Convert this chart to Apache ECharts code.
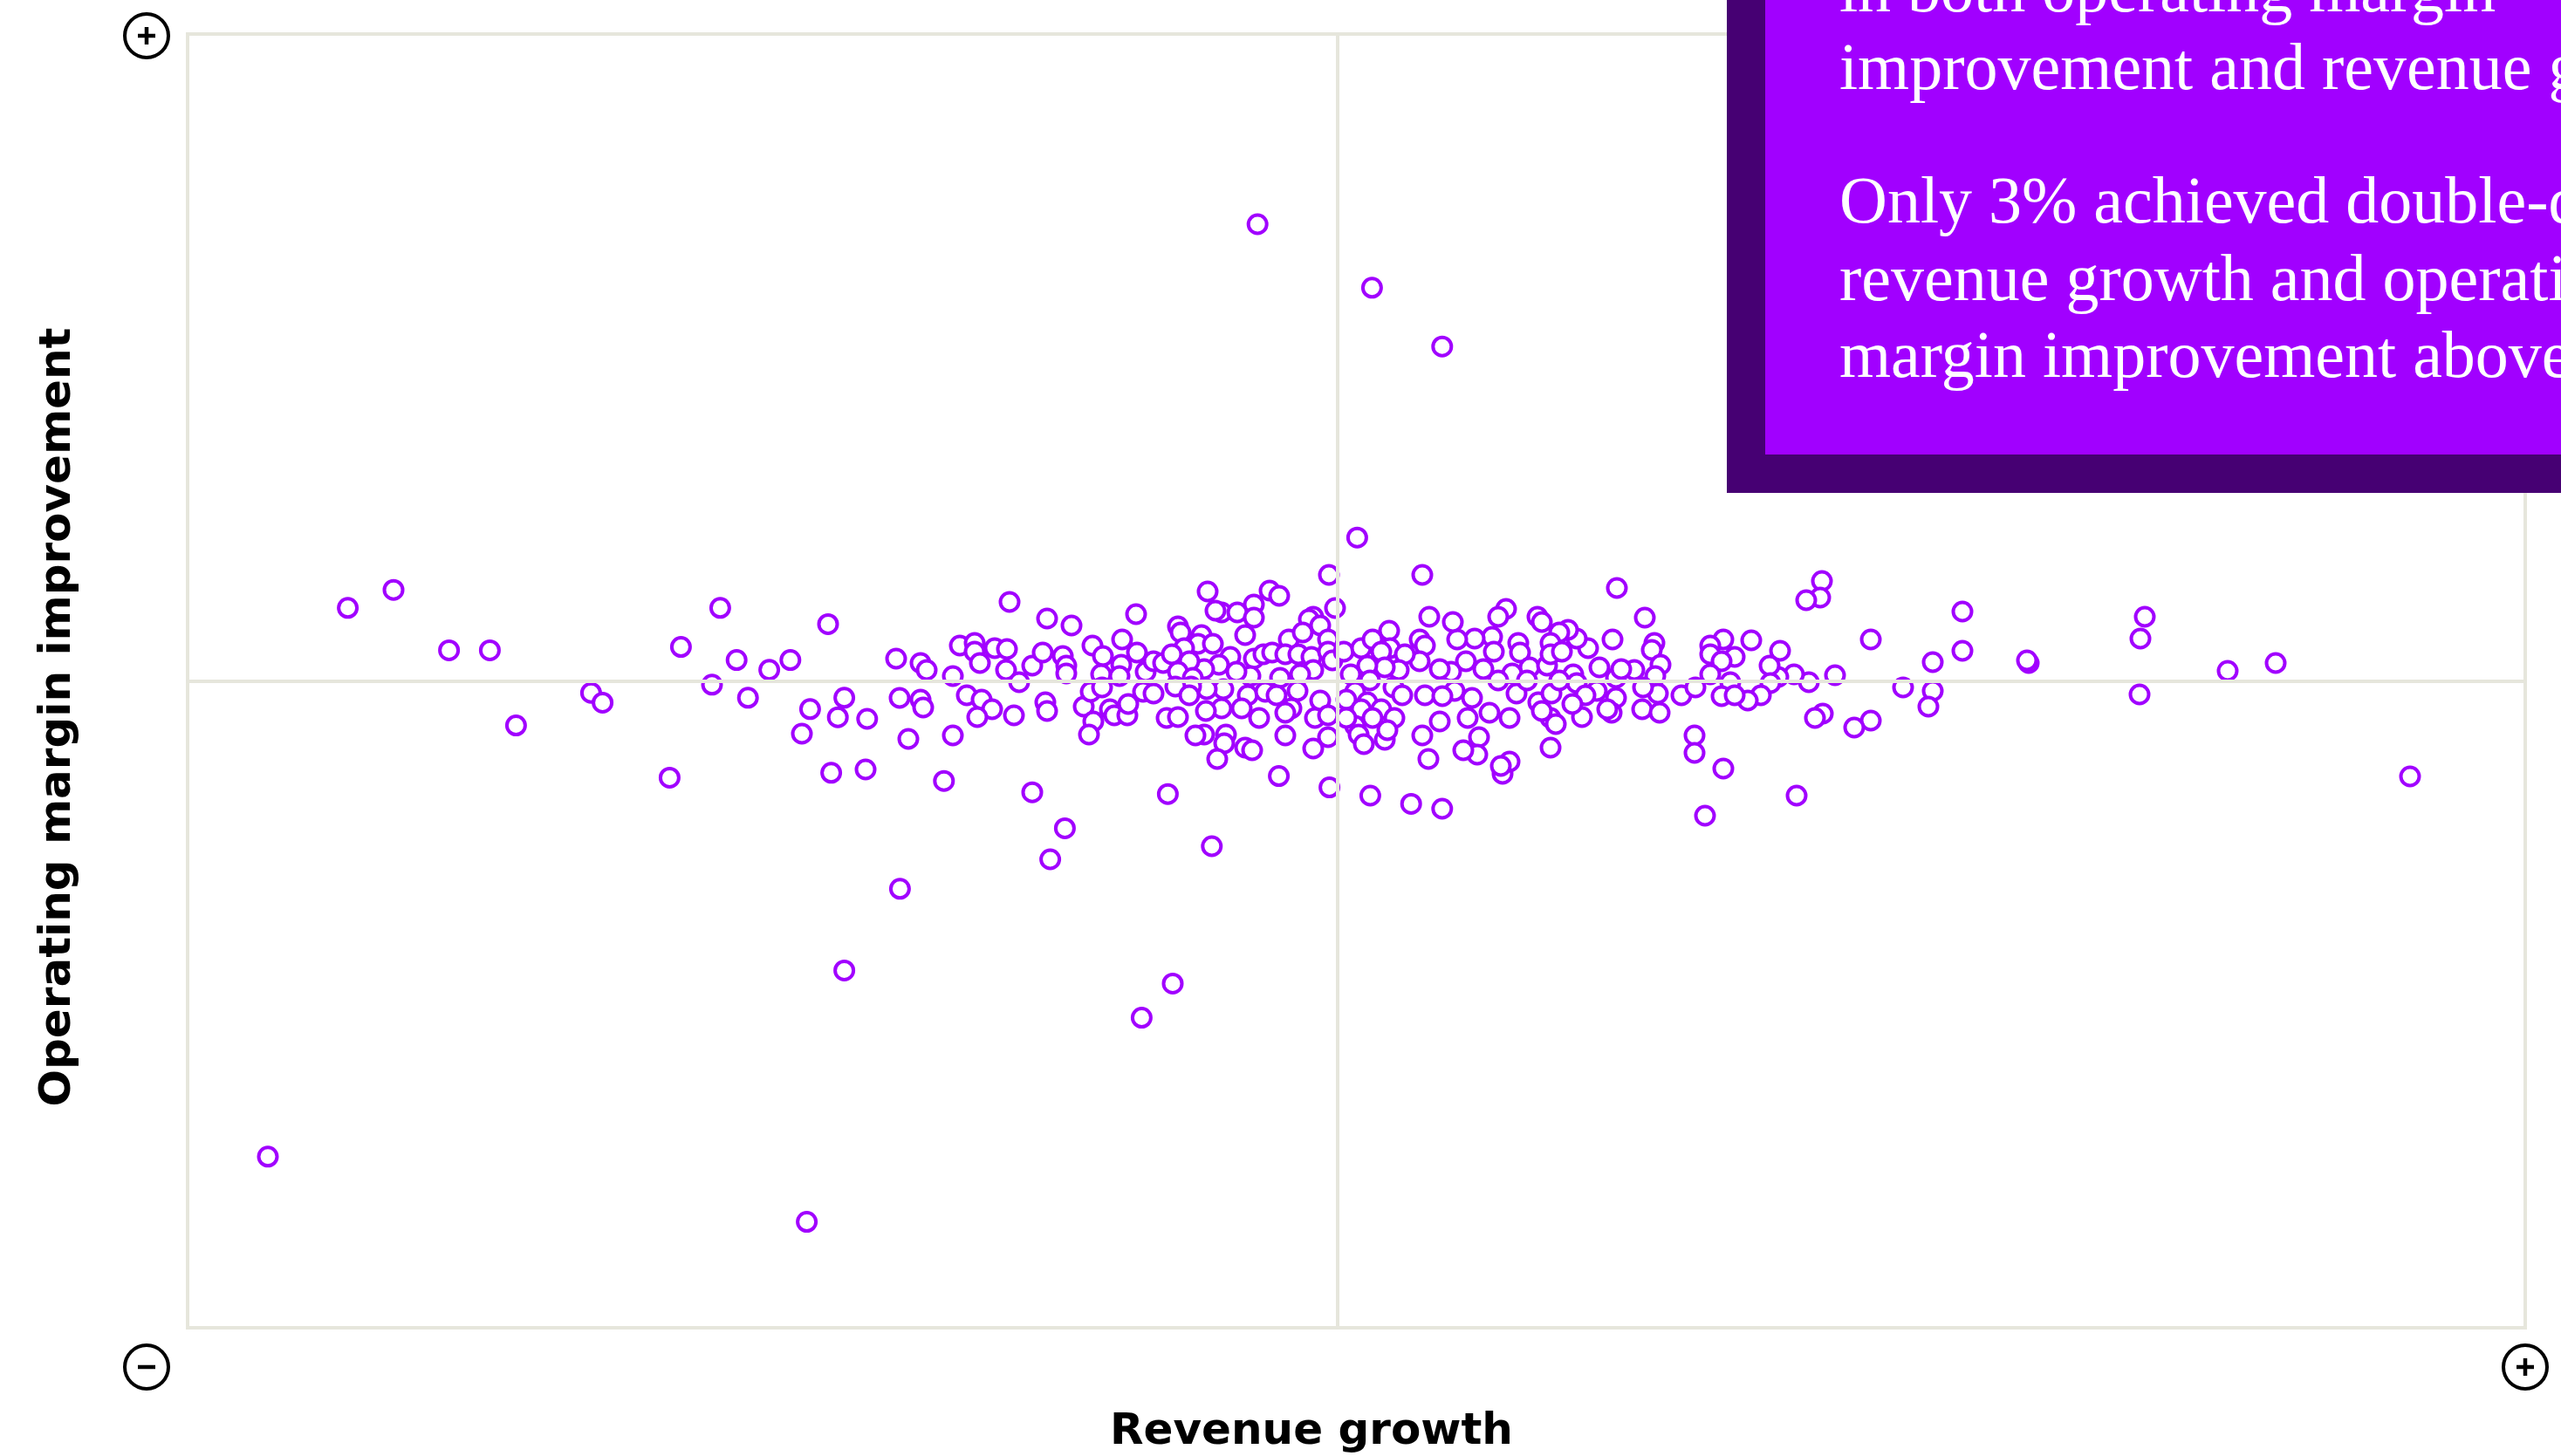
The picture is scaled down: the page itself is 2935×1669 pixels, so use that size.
<!DOCTYPE html>
<html>
<head>
<meta charset="utf-8">
<script src="https://cdn.jsdelivr.net/npm/echarts@6/dist/echarts.min.js"></script>
<style>
html,body{margin:0;padding:0;background:#fff;}
#chart{width:2935px;height:1669px;}
</style>
</head>
<body>
<div id="chart"></div>
<script>
// Axis titles and annotation text
const xTitle = 'Revenue growth';
const yTitle = 'Operating margin improvement';
const noteLines = [
  'in both operating margin',
  'improvement and revenue growth',
  'Only 3% achieved double-digit',
  'revenue growth and operating',
  'margin improvement above'
];
// Axis extents (arbitrary units, zero lines cross inside the frame)
const xRange = [-65.9, 68.05];
const yRange = [-37.05, 37.1];

// Companies: [revenue growth, operating margin improvement]
const outliers = [
  [-4.59,26.2],[1.97,22.56],[5.99,19.19],[1.12,8.24],[4.85,6.1],[-0.5,6.1],
  [-61.3,-27.24],[-30.42,-30.98],[-28.27,-16.57],[-9.45,-17.32],[-11.23,-19.28],
  [-25.08,-11.89],[-16.47,-10.2],[-7.21,-9.45],[-15.63,-8.42],[-17.5,-6.36],[-9.73,-6.46],
  [61.45,-5.45],[21.05,-7.7],[26.3,-6.55],[22.1,-5.0],[5.99,-7.3],[4.21,-7.02],
  [1.87,-6.55],[-0.47,-6.08],[-3.37,-5.43],[-38.28,-5.52],[-29.02,-5.24],[-27.05,-5.05],
  [-22.56,-5.71]
];
const leftTail = [
  [-56.72,4.21],[-54.1,5.24],[-50.92,1.78],[-48.58,1.78],[-47.08,-2.53],[-42.78,-0.66],
  [-42.12,-1.22],[-37.63,1.97],[-35.38,4.21],[-35.85,-0.19],[-34.44,1.22],[-33.79,-0.94],
  [-32.57,0.66],[-31.36,1.22],[-29.2,3.28],[-30.7,-3.0],[-30.23,-1.59],[-28.64,-2.06],
  [-28.27,-0.94],[-26.96,-2.15],[-25.3,1.3],[-25.1,-0.95],[-24.6,-3.3]
];
const coreLeft = [
  [-18.8,4.55],[-16.65,3.6],[-15.25,3.2],[-11.55,3.85],[-21.65,2.05],[-20.8,2.2],
  [-20.8,1.7],[-20.5,1.05],[-19.65,1.9],[-18.95,1.85],[-19.0,0.65],[-18.25,-0.05],
  [-17.5,0.9],[-16.9,1.65],[-15.75,1.45],[-15.55,0.9],[-15.55,0.45],[-14.05,2.05],
  [-13.45,1.45],[-12.35,2.4],[-12.4,0.95],[-11.5,1.65],[-13.55,0.4],[-12.5,0.3],
  [-11.0,0.55],[-10.55,1.15],[-10.0,1.05],[-23.9,1.05],[-23.55,0.65],[-22.05,0.3],
  [-23.9,-1.05],[-23.75,-1.5],[-21.25,-0.8],[-20.4,-1.05],[-19.8,-1.6],[-20.65,-2.05],
  [-18.55,-1.95],[-16.75,-1.2],[-16.65,-1.7],[-14.55,-1.45],[-14.15,-0.6],[-13.5,-0.35],
  [-14.0,-2.3],[-14.25,-3.05],[-13.05,-1.6],[-12.8,-1.95],[-12.05,-1.95],[-12.0,-1.3],
  [-11.15,-0.6],[-10.55,-0.7],[-9.8,-2.1],[-22.05,-3.1]
];
const coreCenter = [
  [-7.45,5.15],[-3.9,5.2],[-3.35,4.9],[-4.8,4.4],[-6.65,3.95],[-5.75,3.95],[-7.0,4.05],
  [-4.8,3.65],[-0.15,4.2],[-1.4,3.7],[-1.65,3.55],[-1.0,3.2],[-9.15,3.15],[-9.0,2.8],
  [-7.8,2.65],[-8.0,2.15],[-7.15,2.15],[-5.3,2.65],[-2.8,2.4],[-2.0,2.8],[-0.55,2.4],
  [-8.8,1.9],[-9.5,1.55],[-6.15,1.4],[-6.8,0.95],[-7.65,0.7],[-8.5,1.15],[-9.15,0.55],
  [-8.3,0.2],[-4.8,1.3],[-4.25,1.55],[-3.75,1.65],[-3.0,1.55],[-2.25,1.55],[-1.5,1.4],
  [-0.55,1.7],[-0.3,1.2],[-1.4,0.65],[-2.15,0.4],[-3.3,0.2],[-5.0,0.3],[-5.8,0.55],
  [-6.55,-0.45],[-7.5,-0.45],[-8.4,-0.3],[-9.3,-0.3],[-8.5,-0.8],[-5.15,-0.8],[-4.15,-0.6],
  [-3.5,-0.8],[-2.3,-0.55],[-1.0,-1.1],[-6.65,-1.55],[-7.55,-1.7],[-5.5,-1.55],[-4.5,-2.1],
  [-2.65,-1.55],[-3.0,-1.8],[-1.3,-2.1],[-0.55,-1.95],[-9.15,-2.05],[-7.65,-3.05],
  [-8.15,-3.1],[-6.4,-3.05],[-6.5,-3.55],[-5.3,-3.8],[-4.9,-3.95],[-6.9,-4.45],[-3.0,-3.1],
  [-1.4,-3.85],[-0.55,-3.2],[4.85,-3.1],[5.2,-4.45],
  [0.35,1.7],[1.35,1.9],[2.0,2.4],[2.95,2.9],[3.0,1.9],[2.5,1.7],[4.7,2.4],[5.0,2.05],
  [5.25,3.7],[4.7,1.15],[3.85,1.55],[3.5,0.65],[2.7,0.8],[1.7,0.9],[0.75,0.4],[1.85,0.05],
  [3.2,-0.35],[3.7,-0.8],[5.0,-0.8],[1.0,-0.6],[0.5,-1.05],[1.7,-1.2],[1.35,-1.6],[2.5,-1.6],
  [3.25,-2.1],[2.0,-2.1],[1.0,-2.55],[1.2,-3.05],[1.5,-3.6],[2.7,-3.35],[2.85,-2.8],[0.5,-2.1]
];
const coreRight = [
  [16.0,5.35],[17.6,3.65],[15.75,2.4],[18.15,2.2],[18.0,1.8],[18.5,0.95],[18.2,0.3],
  [17.0,0.65],[15.95,0.2],[16.25,0.7],[15.0,0.8],[14.35,1.9],[13.7,2.45],[13.2,2.95],
  [12.7,2.8],[12.2,2.2],[11.45,3.7],[11.7,3.4],[9.65,4.15],[9.2,3.7],[8.85,2.55],[8.95,1.7],
  [10.35,2.2],[10.45,1.65],[7.85,2.45],[6.85,2.4],[6.6,3.4],[7.35,1.15],[8.35,0.7],
  [6.5,0.55],[5.85,0.7],[10.0,0.45],[11.0,0.8],[12.0,0.9],[13.5,0.4],[13.7,-0.1],
  [14.85,-0.55],[14.2,-0.8],[15.95,-0.95],[15.7,-1.8],[15.45,-1.6],[17.45,-1.6],[18.45,-1.8],
  [18.35,-0.7],[17.5,-0.35],[19.7,-0.8],[14.0,-2.05],[13.45,-1.3],[12.2,-2.1],[12.5,-2.45],
  [12.2,-3.8],[11.5,-1.2],[11.7,-1.7],[12.25,-0.7],[10.25,-0.7],[9.85,-2.1],[8.7,-1.8],
  [7.7,-0.95],[6.7,-0.55],[6.0,-0.85],[7.45,-2.1],[5.85,-2.3],[8.1,-3.2],[8.0,-4.2],
  [7.2,-3.95],[9.45,-5.3],[9.85,-4.6],[9.35,-4.85],[9.2,0.05],[10.85,0.05],[12.7,0.05],
  [12.2,1.55],[12.85,1.7]
];
const rightTail = [
  [27.75,5.75],[27.65,4.8],[26.85,4.65],[35.8,4.0],[35.8,1.75],[30.55,2.4],[34.1,1.1],
  [32.4,-0.35],[34.1,-0.55],[33.85,-1.45],[28.5,0.35],[27.0,-0.05],[26.15,0.4],[25.25,0.25],
  [25.35,1.75],[24.75,0.9],[24.8,-0.1],[24.25,-0.8],[23.7,2.35],[23.5,-1.1],[22.75,1.4],
  [22.5,-0.05],[22.0,-0.85],[22.75,-0.8],[22.1,2.4],[21.35,2.05],[21.35,1.55],[22.0,1.15],
  [21.35,0.4],[20.5,-0.35],[27.8,-1.85],[27.35,-2.1],[30.55,-2.25],[29.6,-2.65],
  [20.45,-3.1],[20.45,-4.1],
  [39.6,1.05],[39.5,1.2],[46.25,3.7],[46.0,2.45],[45.95,-0.75],[51.0,0.6],[53.75,1.05]
];

const companies = [].concat(outliers, leftTail, coreLeft, coreCenter, coreRight, rightTail);

const PURPLE = '#a100ff';
const DARK_PURPLE = '#460073';
const LINE = '#e6e6dc';

const chart = echarts.init(document.getElementById('chart'), null, {renderer: 'canvas'});

function signBadge(cx, cy, plus) {
  const children = [
    {type: 'circle', shape: {cx: cx, cy: cy, r: 25}, style: {fill: '#fff', stroke: '#000', lineWidth: 4}},
    {type: 'line', shape: {x1: cx - 10, y1: cy, x2: cx + 10, y2: cy}, style: {stroke: '#000', lineWidth: 4.5}}
  ];
  if (plus) {
    children.push({type: 'line', shape: {x1: cx, y1: cy - 10, x2: cx, y2: cy + 10}, style: {stroke: '#000', lineWidth: 4.5}});
  }
  return {type: 'group', children: children};
}

const noteBaselines = [11, 100, 253, 342, 430];
const noteTexts = noteLines.map(function (t, i) {
  return {
    type: 'text', x: 2108, y: noteBaselines[i] - 18, z: 101,
    style: {text: t, font: '76px "Liberation Serif"', fill: '#ffffff', align: 'left', verticalAlign: 'middle'}
  };
});

chart.setOption({
  animation: false,
  grid: {left: 215, right: 41, top: 39, bottom: 147, show: true, borderColor: LINE, borderWidth: 4, backgroundColor: 'transparent'},
  xAxis: {
    type: 'value', min: xRange[0], max: xRange[1], z: 10,
    axisLine: {show: true, onZero: true, lineStyle: {color: LINE, width: 4}},
    axisTick: {show: false}, axisLabel: {show: false}, splitLine: {show: false}
  },
  yAxis: {
    type: 'value', min: yRange[0], max: yRange[1], z: 10,
    axisLine: {show: true, onZero: true, lineStyle: {color: LINE, width: 4}},
    axisTick: {show: false}, axisLabel: {show: false}, splitLine: {show: false}
  },
  series: [{
    type: 'scatter',
    data: companies,
    symbol: 'circle',
    symbolSize: 21,
    itemStyle: {color: '#ffffff', borderColor: PURPLE, borderWidth: 4, opacity: 1},
    emphasis: {disabled: true}
  }],
  graphic: [
    signBadge(168, 41, true),
    signBadge(168, 1567, false),
    signBadge(2894, 1567, true),
    {type: 'text', x: 1503, y: 1642, style: {text: xTitle, font: 'bold 50px "DejaVu Sans"', fill: '#000', align: 'center', verticalAlign: 'middle'}},
    {type: 'text', x: 67, y: 822, rotation: Math.PI / 2, style: {text: yTitle, font: 'bold 50px "DejaVu Sans"', fill: '#000', align: 'center', verticalAlign: 'middle'}},
    {type: 'rect', z: 100, shape: {x: 1979, y: -60, width: 1100, height: 625}, style: {fill: DARK_PURPLE}},
    {type: 'rect', z: 100, shape: {x: 2023, y: -60, width: 1100, height: 581}, style: {fill: PURPLE}}
  ].concat(noteTexts)
});
</script>
</body>
</html>
